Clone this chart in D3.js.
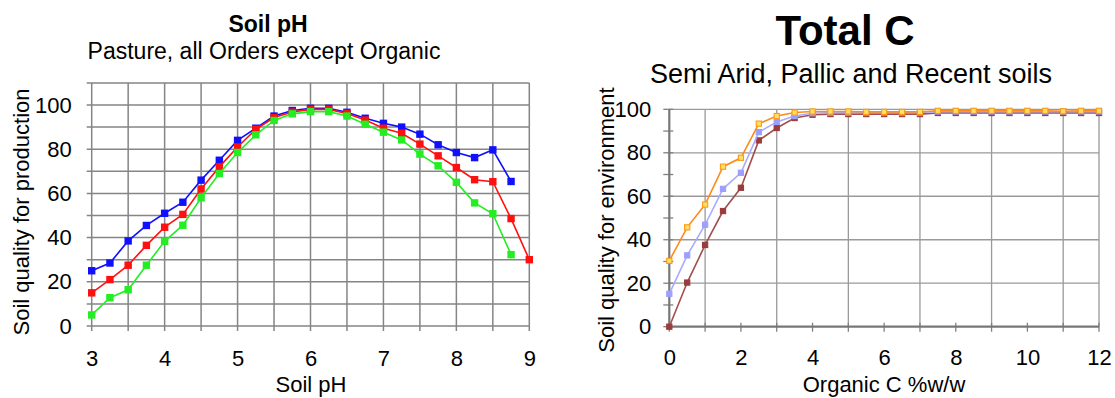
<!DOCTYPE html>
<html><head><meta charset="utf-8">
<script src="https://cdn.jsdelivr.net/npm/d3@7"></script>
<style>
html,body{margin:0;padding:0;background:#fff;}
svg{display:block;font-family:"Liberation Sans",Arial,sans-serif;}
</style></head>
<body>
<svg id="chart" width="1115" height="398"></svg>
<script>
// ---------- Data: Soil pH chart ----------
const phX = [3,3.25,3.5,3.75,4,4.25,4.5,4.75,5,5.25,5.5,5.75,6,6.25,6.5,6.75,7,7.25,7.5,7.75,8,8.25,8.5,8.75,9];
const phBlue  = [25,28.5,38.5,45.5,51,56,66,75,84,89.5,95,97.5,98.5,98.5,96.7,94,91.7,90,86.8,82,78.5,76.2,79.7,65.4];
const phRed   = [15,21,27.5,36.5,44.7,50.5,62,72,81,89,94.3,96.8,98,98,96.2,93.2,89.5,87.2,82.3,77,71.7,66.2,65.3,48.6,30];
const phGreen = [5,12.8,16.4,27.5,38.3,45.6,58,69,78.5,86.5,93,96,97,97,95,91.3,87.7,84.2,77.8,72.5,65,55.7,50.8,32.3];
const phXTicks = [3,4,5,6,7,8,9];
const phYTicks = [0,20,40,60,80,100];

// ---------- Data: Total C chart ----------
const cX = [0,0.5,1,1.5,2,2.5,3,3.5,4,4.5,5,5.5,6,6.5,7,7.5,8,8.5,9,9.5,10,10.5,11,11.5,12];
const cOrange   = [30.3,45.7,56.2,73.6,77.7,93.4,96.9,98.5,99,99,99,98.8,98.8,98.8,98.8,99.3,99.3,99.3,99.3,99.3,99.3,99.3,99.1,99.3,99.3];
const cLavender = [15.1,32.8,46.9,63.4,70.8,89.5,94.2,96.9,98.2,98.5,98.5,98.5,98.5,98.5,98.5,99,99,99,99,99,99,99,99,99,99];
const cBrown    = [0,20.3,37.6,53.2,63.9,85.7,91.4,96,97.5,97.8,97.8,97.8,97.8,97.8,97.8,98.3,98.3,98.3,98.3,98.3,98.3,98.3,98.3,98.3,98.3];
const cXTicks = [0,2,4,6,8,10,12];
const cYTicks = [0,20,40,60,80,100];

const svg = d3.select("#chart");
const TXT = "#000";

// ================= LEFT CHART =================
(function(){
  const x = d3.scaleLinear().domain([3,9]).range([91.7,529.3]);
  const y = d3.scaleLinear().domain([0,110]).range([326,82.9]);
  const g = svg.append("g");
  const gridColor = "#858585";
  const xGrid = d3.range(3,9.01,0.5);
  const yGrid = d3.range(0,110.1,10);
  g.selectAll(".vg").data(xGrid).join("line")
    .attr("x1",d=>x(d)).attr("x2",d=>x(d)).attr("y1",y(110)).attr("y2",y(0)+5)
    .attr("stroke",gridColor).attr("stroke-width",1.5);
  g.selectAll(".hg").data(yGrid).join("line")
    .attr("y1",d=>y(d)).attr("y2",d=>y(d)).attr("x1",x(3)-5).attr("x2",x(9))
    .attr("stroke",gridColor).attr("stroke-width",1.5);
  const xa = g.append("g").attr("transform",`translate(0,${y(0)})`)
    .call(d3.axisBottom(x).tickValues(phXTicks).tickSize(0).tickPadding(24).tickFormat(d3.format("d")));
  const ya = g.append("g").attr("transform",`translate(${x(3)},0)`)
    .call(d3.axisLeft(y).tickValues(phYTicks).tickSize(0).tickPadding(20).tickFormat(d3.format("d")));
  [xa,ya].forEach(a=>{a.select(".domain").remove();
    a.selectAll("text").attr("font-size",22).attr("fill",TXT).attr("font-family","Liberation Sans, Arial, sans-serif");});
  const series = [[phBlue,"#1010ff"],[phRed,"#ff1010"],[phGreen,"#22ee22"]];
  const line = d3.line().x(d=>x(d[0])).y(d=>y(d[1]));
  series.forEach(([vals,col])=>{
    const pts = vals.map((v,i)=>[phX[i],v]);
    g.append("path").datum(pts).attr("d",line).attr("fill","none").attr("stroke",col).attr("stroke-width",1.6);
    g.selectAll(null).data(pts).join("rect")
      .attr("x",d=>x(d[0])-3.7).attr("y",d=>y(d[1])-3.7).attr("width",7.4).attr("height",7.4).attr("fill",col);
  });
  g.append("text").attr("x",268).attr("y",32).attr("text-anchor","middle").attr("font-size",23).attr("font-weight","bold").attr("fill",TXT).text("Soil pH");
  g.append("text").attr("x",264).attr("y",59).attr("text-anchor","middle").attr("font-size",23).attr("fill",TXT).text("Pasture, all Orders except Organic");
  g.append("text").attr("x",311).attr("y",392).attr("text-anchor","middle").attr("font-size",22).attr("fill",TXT).text("Soil pH");
  g.append("text").attr("transform","translate(29,212) rotate(-90)").attr("text-anchor","middle").attr("font-size",22).attr("fill",TXT).text("Soil quality for production");
})();

// ================= RIGHT CHART =================
(function(){
  const x = d3.scaleLinear().domain([0,12]).range([669.3,1099]);
  const y = d3.scaleLinear().domain([0,100]).range([326.7,109.3]);
  const g = svg.append("g");
  const gridColor = "#9a9a9a";
  const xGrid = [1,3,5,7,9,11,12];
  const yGrid = [20,40,60,80,100];
  g.selectAll(".vg").data(xGrid).join("line")
    .attr("x1",d=>x(d)).attr("x2",d=>x(d)).attr("y1",y(100)).attr("y2",y(0))
    .attr("stroke",gridColor).attr("stroke-width",1.3);
  g.selectAll(".hg").data(yGrid).join("line")
    .attr("y1",d=>y(d)).attr("y2",d=>y(d)).attr("x1",x(0)).attr("x2",x(12))
    .attr("stroke",gridColor).attr("stroke-width",1.3);
  g.selectAll(".xt").data(d3.range(0,12.01,1)).join("line")
    .attr("x1",d=>x(d)).attr("x2",d=>x(d)).attr("y1",y(0)-4).attr("y2",y(0)+5)
    .attr("stroke","#808080").attr("stroke-width",1.3);
  g.selectAll(".yt").data(d3.range(0,100.1,10)).join("line")
    .attr("y1",d=>y(d)).attr("y2",d=>y(d)).attr("x1",x(0)-6).attr("x2",x(0)+4)
    .attr("stroke","#808080").attr("stroke-width",1.3);
  g.append("line").attr("x1",x(0)).attr("x2",x(0)).attr("y1",y(100)).attr("y2",y(0)).attr("stroke","#777").attr("stroke-width",2.2);
  g.append("line").attr("x1",x(0)).attr("x2",x(12)).attr("y1",y(0)).attr("y2",y(0)).attr("stroke","#777").attr("stroke-width",2.2);
  const xa = g.append("g").attr("transform",`translate(0,${y(0)})`)
    .call(d3.axisBottom(x).tickValues(cXTicks).tickSize(0).tickPadding(23).tickFormat(d3.format("d")));
  const ya = g.append("g").attr("transform",`translate(${x(0)},0)`)
    .call(d3.axisLeft(y).tickValues(cYTicks).tickSize(0).tickPadding(18).tickFormat(d3.format("d")));
  [xa,ya].forEach(a=>{a.select(".domain").remove();
    a.selectAll("text").attr("font-size",22).attr("fill",TXT).attr("font-family","Liberation Sans, Arial, sans-serif");});
  const line = d3.line().x(d=>x(d[0])).y(d=>y(d[1]));
  const series = [
    {vals:cBrown, stroke:"#a34e4e", fill:"#9b3c3c", mstroke:"#9b3c3c"},
    {vals:cLavender, stroke:"#a9abff", fill:"#9d9fff", mstroke:"#9d9fff"},
    {vals:cOrange, stroke:"#ff8a1c", fill:"#ffe066", mstroke:"#ff9a10"}
  ];
  series.forEach(s=>{
    const pts = s.vals.map((v,i)=>[cX[i],v]);
    g.append("path").datum(pts).attr("d",line).attr("fill","none").attr("stroke",s.stroke).attr("stroke-width",1.6);
    g.selectAll(null).data(pts).join("rect")
      .attr("x",d=>x(d[0])-2.6).attr("y",d=>y(d[1])-2.6).attr("width",5.2).attr("height",5.2)
      .attr("fill",s.fill).attr("stroke",s.mstroke).attr("stroke-width",1.1);
  });
  g.append("text").attr("x",845).attr("y",45).attr("text-anchor","middle").attr("font-size",42).attr("font-weight","bold").attr("fill",TXT).text("Total C");
  g.append("text").attr("x",851).attr("y",83).attr("text-anchor","middle").attr("font-size",27).attr("fill",TXT).text("Semi Arid, Pallic and Recent soils");
  g.append("text").attr("x",884).attr("y",392).attr("text-anchor","middle").attr("font-size",22).attr("fill",TXT).text("Organic C %w/w");
  g.append("text").attr("transform","translate(614,220) rotate(-90)").attr("text-anchor","middle").attr("font-size",22).attr("fill",TXT).text("Soil quality for environment");
})();
</script>
</body></html>
